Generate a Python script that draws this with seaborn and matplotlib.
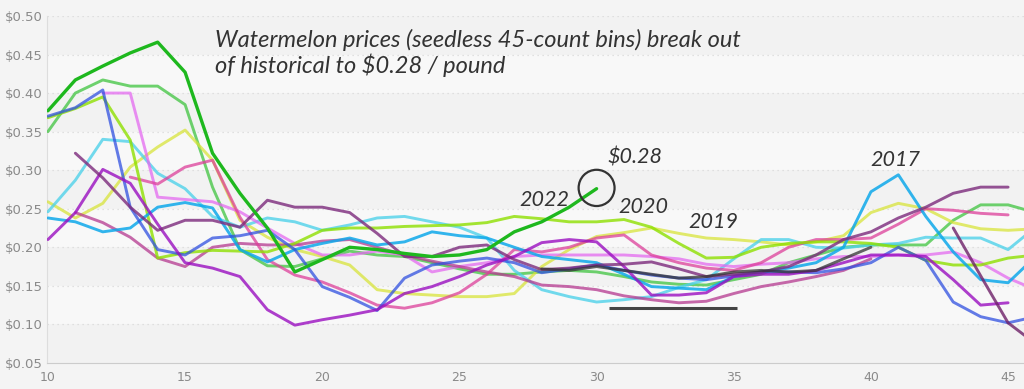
import matplotlib
matplotlib.use("Agg")
import matplotlib.pyplot as plt
from matplotlib.patches import Ellipse
import numpy as np
import pandas as pd
import seaborn as sns

sns.set_style("white")

# weekly prices ($/lb), one list per season
wk_2022 = list(range(10, 31))
p_2022 = [0.377, 0.417, 0.435, 0.452, 0.466, 0.427, 0.322, 0.27, 0.225, 0.168, 0.184,
          0.200, 0.197, 0.192, 0.188, 0.190, 0.197, 0.220, 0.233, 0.252, 0.276]

wk_green = list(range(10, 47))
p_green = [0.35, 0.40, 0.417, 0.409, 0.409, 0.385, 0.278, 0.197, 0.176, 0.175, 0.185,
           0.195, 0.19, 0.188, 0.18, 0.172, 0.165, 0.165, 0.168, 0.17, 0.168, 0.162,
           0.155, 0.152, 0.151, 0.158, 0.165, 0.18, 0.19, 0.2, 0.203, 0.203, 0.203,
           0.235, 0.255, 0.255, 0.245]

wk_royal = list(range(10, 47))
p_royal = [0.37, 0.381, 0.404, 0.252, 0.197, 0.19, 0.212, 0.215, 0.222, 0.197, 0.149,
           0.135, 0.118, 0.16, 0.177, 0.182, 0.186, 0.18, 0.167, 0.172, 0.177, 0.17,
           0.164, 0.16, 0.158, 0.163, 0.168, 0.168, 0.167, 0.172, 0.18, 0.2, 0.183,
           0.129, 0.11, 0.102, 0.11]

wk_violet = list(range(12, 47))
p_violet = [0.40, 0.40, 0.265, 0.262, 0.259, 0.246, 0.225, 0.205, 0.19, 0.19, 0.195,
            0.19, 0.168, 0.175, 0.18, 0.188, 0.19, 0.19, 0.19, 0.19, 0.188, 0.185,
            0.178, 0.175, 0.178, 0.18, 0.185, 0.188, 0.188, 0.19, 0.19, 0.194, 0.18,
            0.16, 0.145]

wk_lime = list(range(10, 47))
p_lime = [0.368, 0.38, 0.395, 0.339, 0.186, 0.193, 0.196, 0.195, 0.194, 0.205, 0.222,
          0.225, 0.225, 0.227, 0.228, 0.229, 0.232, 0.24, 0.237, 0.233, 0.233, 0.236,
          0.226, 0.205, 0.186, 0.187, 0.2, 0.205, 0.207, 0.207, 0.205, 0.2, 0.183,
          0.177, 0.177, 0.186, 0.19]

wk_cyan = list(range(10, 47))
p_cyan = [0.246, 0.287, 0.34, 0.337, 0.296, 0.276, 0.24, 0.226, 0.238, 0.233, 0.222,
          0.229, 0.238, 0.24, 0.233, 0.226, 0.212, 0.17, 0.145, 0.136, 0.129, 0.132,
          0.136, 0.148, 0.158, 0.185, 0.21, 0.21, 0.2, 0.199, 0.203, 0.205, 0.213,
          0.212, 0.212, 0.197, 0.226]

wk_sky = list(range(10, 47))
p_sky = [0.238, 0.233, 0.22, 0.225, 0.252, 0.258, 0.251, 0.197, 0.181, 0.197, 0.205,
         0.212, 0.203, 0.207, 0.22, 0.215, 0.212, 0.2, 0.188, 0.184, 0.18, 0.165,
         0.149, 0.147, 0.145, 0.162, 0.168, 0.173, 0.18, 0.2, 0.272, 0.294, 0.24,
         0.194, 0.158, 0.154, 0.188]

wk_purple = list(range(10, 46))
p_purple = [0.21, 0.245, 0.301, 0.283, 0.23, 0.18, 0.173, 0.162, 0.119, 0.099, 0.106,
            0.112, 0.119, 0.14, 0.149, 0.162, 0.177, 0.188, 0.206, 0.21, 0.207, 0.175,
            0.138, 0.138, 0.141, 0.162, 0.165, 0.165, 0.17, 0.18, 0.19, 0.19, 0.188,
            0.158, 0.125, 0.128]

wk_plum = list(range(11, 46))
p_plum = [0.322, 0.29, 0.252, 0.222, 0.235, 0.235, 0.226, 0.261, 0.252, 0.252, 0.245,
          0.218, 0.188, 0.188, 0.2, 0.203, 0.184, 0.171, 0.173, 0.177, 0.178, 0.181,
          0.172, 0.162, 0.165, 0.168, 0.175, 0.19, 0.21, 0.22, 0.238, 0.252, 0.27,
          0.278, 0.278]

wk_pink = list(range(13, 46))
p_pink = [0.291, 0.282, 0.304, 0.313, 0.239, 0.184, 0.164, 0.155, 0.141, 0.125, 0.121,
          0.128, 0.141, 0.165, 0.197, 0.194, 0.2, 0.212, 0.216, 0.19, 0.18, 0.173,
          0.17, 0.18, 0.2, 0.21, 0.21, 0.212, 0.23, 0.25, 0.248, 0.244, 0.242]

wk_yellow = list(range(10, 47))
p_yellow = [0.259, 0.238, 0.257, 0.304, 0.33, 0.352, 0.313, 0.235, 0.213, 0.197, 0.188,
            0.177, 0.145, 0.14, 0.138, 0.136, 0.136, 0.14, 0.175, 0.197, 0.214, 0.219,
            0.225, 0.218, 0.212, 0.21, 0.207, 0.203, 0.207, 0.215, 0.245, 0.257, 0.25,
            0.232, 0.224, 0.222, 0.224]

wk_mauve = list(range(11, 41))
p_mauve = [0.245, 0.232, 0.213, 0.186, 0.175, 0.2, 0.205, 0.203, 0.203, 0.208, 0.21,
           0.2, 0.19, 0.182, 0.175, 0.168, 0.162, 0.151, 0.149, 0.145, 0.137, 0.132,
           0.128, 0.13, 0.14, 0.149, 0.155, 0.162, 0.17, 0.185]

wk_plum2 = list(range(43, 47))
p_plum2 = [0.225, 0.163, 0.102, 0.075]

wk_black = list(range(28, 41))
p_black = [0.172, 0.17, 0.175, 0.17, 0.165, 0.16, 0.162, 0.168, 0.17, 0.168, 0.17,
           0.185, 0.2]

series = [
    ("green", wk_green, p_green, "#3fc43f", 0.75),
    ("yellow", wk_yellow, p_yellow, "#d8e43a", 0.75),
    ("cyan", wk_cyan, p_cyan, "#4fd2ea", 0.8),
    ("violet", wk_violet, p_violet, "#e46af0", 0.75),
    ("mauve", wk_mauve, p_mauve, "#b5388f", 0.75),
    ("pink", wk_pink, p_pink, "#dd3f9a", 0.75),
    ("lime", wk_lime, p_lime, "#8ee000", 0.8),
    ("sky", wk_sky, p_sky, "#0ea8ea", 0.85),
    ("royal", wk_royal, p_royal, "#3050e0", 0.75),
    ("purple", wk_purple, p_purple, "#9a0fc0", 0.8),
    ("plum", wk_plum, p_plum, "#7c2a7c", 0.8),
    ("plum2", wk_plum2, p_plum2, "#6e2068", 0.8),
    ("black", wk_black, p_black, "#333333", 0.75),
    ("2022", wk_2022, p_2022, "#1eb81e", 1.0),
]

fig = plt.figure(figsize=(10.24, 3.89), dpi=100)
fig.patch.set_facecolor("#f4f4f4")
ax = fig.add_axes([0.046, 0.067, 0.954, 0.892])
ax.set_facecolor("#f6f6f6")

# soft horizontal bands + dotted grid
band_cols = ["#f2f2f2", "#f8f8f8"]
for i, lo in enumerate(np.arange(0.05, 0.50, 0.05)):
    ax.axhspan(lo, lo + 0.05, color=band_cols[i % 2], zorder=0, lw=0)
for yv in np.arange(0.10, 0.51, 0.05):
    ax.axhline(yv, color="#d9d9d9", lw=0.9, ls=(0, (1, 3)), zorder=0.5)

for name, wk, pr, col, a in series:
    df = pd.DataFrame({"week": wk, "price": pr})
    sns.lineplot(data=df, x="week", y="price", color=col, alpha=a,
                 linewidth=2.1 if name != "2022" else 2.4, ax=ax, zorder=3)

ax.set_xlim(9.97, 45.58)
ax.set_ylim(0.05, 0.50)
ax.set_xticks(range(10, 46, 5))
ax.set_yticks(np.arange(0.05, 0.501, 0.05))
ax.set_yticklabels(["${:.2f}".format(v) for v in np.arange(0.05, 0.501, 0.05)])
ax.set_xlabel("")
ax.set_ylabel("")
ax.tick_params(axis="y", length=0, labelsize=9.5, labelcolor="#8a8a8a", pad=3)
ax.tick_params(axis="x", length=4, color="#aaaaaa", labelsize=9, labelcolor="#8a8a8a", pad=2)
for s in ["top", "right"]:
    ax.spines[s].set_visible(False)
ax.spines["left"].set_color("#dddddd")
ax.spines["bottom"].set_color("#cccccc")

hand = dict(family="Lato", style="italic", color="#333333")
ax.text(16.1, 0.469, "Watermelon prices (seedless 45-count bins) break out",
        fontsize=17, va="center", ha="left", **hand)
ax.text(16.1, 0.436, "of historical to $0.28 / pound",
        fontsize=17, va="center", ha="left", **hand)
ax.text(31.4, 0.317, "$0.28", fontsize=15.5, ha="center", va="center", **hand)
ax.text(28.1, 0.261, "2022", fontsize=15.5, ha="center", va="center", **hand)
ax.text(31.7, 0.252, "2020", fontsize=15.5, ha="center", va="center", **hand)
ax.text(34.25, 0.233, "2019", fontsize=15.5, ha="center", va="center", **hand)
ax.text(40.9, 0.313, "2017", fontsize=15.5, ha="center", va="center", **hand)

ax.add_patch(Ellipse((30.0, 0.277), 1.31, 0.047, fill=False, ec="#333333", lw=1.6, zorder=5))
ax.hlines(0.121, 30.45, 35.1, color="#444444", lw=2.2, zorder=5)

fig.savefig("out.png", dpi=100, facecolor=fig.get_facecolor())
